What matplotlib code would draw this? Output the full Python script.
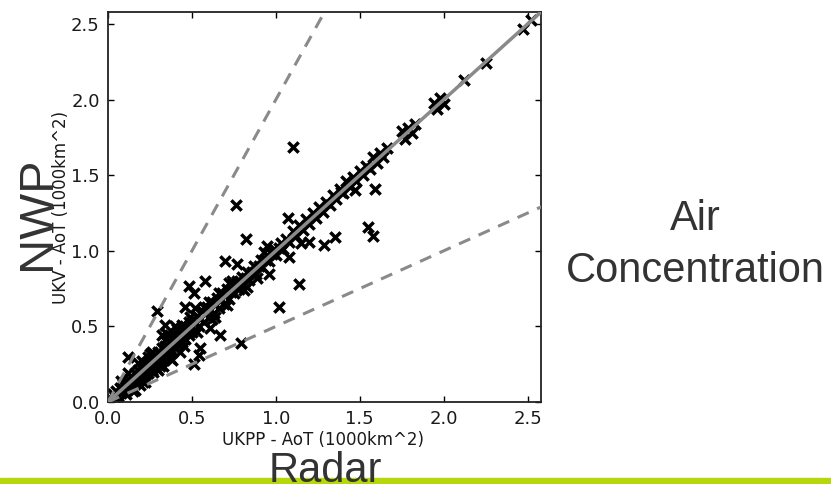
import matplotlib.pyplot as plt
from matplotlib.patches import Rectangle

# points close to the 1:1 line (UKPP on x, UKV on y)
near_x = [0.02, 0.03, 0.04, 0.05, 0.06, 0.07, 0.08, 0.09, 0.10, 0.10, 0.11, 0.12, 0.12, 0.13,
          0.14, 0.14, 0.15, 0.16, 0.16, 0.17, 0.18, 0.18, 0.19, 0.20, 0.20, 0.21, 0.22, 0.22,
          0.23, 0.24, 0.24, 0.25, 0.26, 0.26, 0.27, 0.28, 0.28, 0.29, 0.30, 0.30, 0.31, 0.32,
          0.32, 0.33, 0.34, 0.34, 0.35, 0.36, 0.36, 0.37, 0.38, 0.38, 0.39, 0.40, 0.40, 0.41,
          0.42, 0.42, 0.43, 0.44, 0.44, 0.45, 0.46, 0.46, 0.47, 0.48, 0.48, 0.49, 0.50, 0.50,
          0.52, 0.53, 0.54, 0.55, 0.56, 0.57, 0.58, 0.59, 0.60, 0.61, 0.62, 0.63, 0.64, 0.65,
          0.66, 0.67, 0.68, 0.69, 0.70, 0.71, 0.72, 0.73, 0.74, 0.75, 0.76, 0.77, 0.78, 0.79,
          0.80, 0.81, 0.82, 0.83, 0.84, 0.86, 0.87, 0.88, 0.90, 0.91, 0.92, 0.94, 0.95, 0.96,
          0.98, 0.99, 1.00, 1.02, 1.03, 1.04,
          0.15, 0.22, 0.30, 0.25, 0.33, 0.20, 0.38, 0.12, 0.43, 0.35, 0.40, 0.52, 0.16, 0.27,
          0.08, 0.11, 0.18, 0.21, 0.26, 0.29, 0.34, 0.37, 0.41, 0.45, 0.49, 0.53, 0.57, 0.62,
          0.66, 0.71, 0.74, 0.83, 0.89, 0.19, 0.24, 0.31, 0.36, 0.44, 0.60, 0.72, 0.81, 0.93,
          1.06, 1.08, 1.10, 1.12, 1.14, 1.16, 1.18, 1.20, 1.22, 1.24, 1.26, 1.28, 1.30, 1.32,
          1.34, 1.36, 1.38, 1.40, 1.42, 1.44, 1.46, 1.48, 1.50, 1.52, 1.54, 1.56, 1.58, 1.60,
          1.62, 1.64, 1.66, 1.75, 1.77, 1.79, 1.81, 1.83, 1.94, 1.96, 1.98, 2.00, 2.12, 2.25,
          2.47, 2.52]
near_y = [0.02, 0.05, 0.03, 0.07, 0.04, 0.09, 0.06, 0.12, 0.08, 0.13, 0.10, 0.15, 0.09, 0.12,
          0.17, 0.11, 0.14, 0.19, 0.12, 0.16, 0.21, 0.14, 0.18, 0.23, 0.16, 0.20, 0.25, 0.18,
          0.22, 0.27, 0.19, 0.24, 0.29, 0.21, 0.26, 0.31, 0.23, 0.27, 0.33, 0.25, 0.30, 0.36,
          0.27, 0.32, 0.37, 0.30, 0.34, 0.40, 0.32, 0.36, 0.42, 0.34, 0.38, 0.44, 0.36, 0.41,
          0.46, 0.38, 0.42, 0.48, 0.40, 0.45, 0.50, 0.42, 0.46, 0.53, 0.44, 0.49, 0.54, 0.46,
          0.52, 0.57, 0.50, 0.55, 0.60, 0.53, 0.58, 0.63, 0.56, 0.61, 0.66, 0.59, 0.64, 0.69,
          0.62, 0.67, 0.72, 0.65, 0.70, 0.75, 0.68, 0.73, 0.78, 0.72, 0.76, 0.80, 0.75, 0.79,
          0.83, 0.78, 0.82, 0.86, 0.81, 0.86, 0.90, 0.85, 0.90, 0.94, 0.89, 0.94, 0.97, 0.93,
          0.98, 1.01, 0.97, 1.02, 1.05, 1.01,
          0.07, 0.13, 0.21, 0.32, 0.24, 0.27, 0.28, 0.19, 0.33, 0.45, 0.50, 0.62, 0.08, 0.20,
          0.14, 0.05, 0.26, 0.13, 0.33, 0.22, 0.41, 0.29, 0.48, 0.37, 0.56, 0.46, 0.63, 0.55,
          0.72, 0.64, 0.80, 0.76, 0.82, 0.11, 0.30, 0.24, 0.43, 0.51, 0.66, 0.79, 0.74, 0.99,
          1.08, 1.06, 1.13, 1.10, 1.17, 1.14, 1.21, 1.18, 1.25, 1.22, 1.29, 1.26, 1.32, 1.30,
          1.37, 1.34, 1.41, 1.38, 1.46, 1.42, 1.49, 1.46, 1.53, 1.50, 1.56, 1.54, 1.62, 1.58,
          1.65, 1.62, 1.68, 1.79, 1.74, 1.81, 1.78, 1.84, 1.98, 1.94, 2.01, 1.97, 2.13, 2.24,
          2.47, 2.53]

# points well off the line
off_x = [1.10, 0.76, 0.82, 0.70, 0.77, 0.95, 0.58, 0.48, 0.51, 1.02, 0.29, 0.46, 0.34, 0.32,
         0.61, 0.67, 0.79, 0.55, 0.54, 0.51, 0.12, 0.64, 1.59, 1.55, 1.58, 1.47, 1.07, 1.35,
         1.29, 1.20, 1.15, 1.14, 1.08, 0.96, 1.39]
off_y = [1.69, 1.30, 1.08, 0.93, 0.91, 1.03, 0.80, 0.77, 0.72, 0.63, 0.60, 0.63, 0.51, 0.44,
         0.49, 0.44, 0.39, 0.36, 0.31, 0.25, 0.30, 0.56, 1.41, 1.16, 1.10, 1.40, 1.22, 1.09,
         1.04, 1.06, 1.05, 0.78, 0.96, 0.85, 1.39]

ref_x = [0.0, 2.6]
ticks = [0.0, 0.5, 1.0, 1.5, 2.0, 2.5]

W, H = 831, 484
fig = plt.figure(figsize=(W / 100, H / 100), dpi=100)
ax = fig.add_axes([108 / W, (H - 402) / H, 433 / W, 390 / H])

ax.scatter(near_x + off_x, near_y + off_y, marker='x', s=55, linewidths=2.5,
           color='black', zorder=2)
ax.plot(ref_x, ref_x, color='#8a8a8a', lw=2.5, zorder=3)
ax.plot(ref_x, [2 * v for v in ref_x], color='#8a8a8a', lw=2.2, ls=(0, (4, 3)), zorder=3)
ax.plot(ref_x, [0.5 * v for v in ref_x], color='#8a8a8a', lw=2.2, ls=(0, (4, 3)), zorder=3)

ax.set_xlim(0, 2.58)
ax.set_ylim(0, 2.58)
ax.set_xticks(ticks)
ax.set_yticks(ticks)
ax.tick_params(direction='in', top=True, right=True, length=4, width=1,
               labelsize=13, pad=6, labelcolor='#1a1a1a')
for sp in ax.spines.values():
    sp.set_linewidth(1.3)
    sp.set_color('#222222')

ax.set_xlabel('UKPP - AoT (1000km^2)', fontsize=12, color='#1a1a1a')
ax.set_ylabel('UKV - AoT (1000km^2)', fontsize=12, color='#1a1a1a')
ax.xaxis.set_label_coords(0.497, -0.075)
ax.yaxis.set_label_coords(-0.088, 0.5)

# slide decoration
fig.patches.append(Rectangle((0, 0), 1, 6 / H, transform=fig.transFigure,
                             color='#b6d70c', zorder=0))
txt = dict(family='Liberation Sans', color='#333333')
fig.text(38 / W, 1 - 213 / H, 'NWP', rotation=90, ha='center', va='center',
         fontsize=35, **txt)
fig.text(325 / W, 2 / H, 'Radar', ha='center', va='baseline', fontsize=30,
         zorder=5, **txt)
fig.text(695 / W, 1 - 230 / H, 'Air', ha='center', va='baseline', fontsize=30, **txt)
fig.text(695 / W, 1 - 282 / H, 'Concentration', ha='center', va='baseline',
         fontsize=30, **txt)

fig.savefig('out.png', dpi=100)
